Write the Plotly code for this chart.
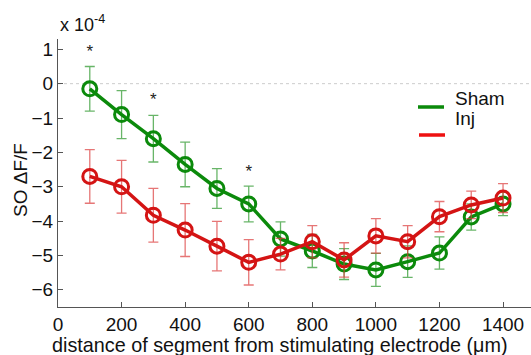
import plotly.graph_objects as go

distance = [100, 200, 300, 400, 500, 600, 700, 800, 900, 1000, 1100, 1200, 1300, 1400]
sham_mean = [-0.15, -0.9, -1.6, -2.35, -3.05, -3.5, -4.52, -4.87, -5.25, -5.42, -5.18, -4.93, -3.88, -3.5]
sham_err = [0.65, 0.7, 0.68, 0.65, 0.58, 0.52, 0.5, 0.48, 0.45, 0.48, 0.46, 0.47, 0.38, 0.34]
inj_mean = [-2.7, -3.0, -3.83, -4.26, -4.73, -5.2, -4.96, -4.6, -5.13, -4.43, -4.6, -3.87, -3.53, -3.33]
inj_err = [0.78, 0.77, 0.78, 0.77, 0.72, 0.66, 0.46, 0.47, 0.5, 0.5, 0.47, 0.44, 0.4, 0.42]
star_x = [100, 300, 600]
star_y = [0.9, -0.5, -2.6]
xticks = [0, 200, 400, 600, 800, 1000, 1200, 1400]
yticks = [1, 0, -1, -2, -3, -4, -5, -6]

GREEN = "#0b8a0b"
RED = "#d41414"
FONT = "Liberation Sans, Arial, sans-serif"
FS = 19

L, T, B = 58, 39, 48
W, H = 531, 355
PW, PH = W - L, H - T - B


def px(x):
    return (x - L) / PW


def py(y):
    return (H - B - y) / PH


fig = go.Figure()
for mean, err, col, ecol, name in [
    (sham_mean, sham_err, GREEN, "rgba(40,150,40,0.7)", "Sham"),
    (inj_mean, inj_err, RED, "rgba(220,60,60,0.7)", "Inj"),
]:
    fig.add_trace(go.Scatter(
        x=distance, y=mean, mode="lines+markers", name=name,
        line=dict(color=col, width=3.5),
        marker=dict(symbol="circle-open", size=14, color=col, line=dict(width=3, color=col)),
        error_y=dict(type="data", array=err, visible=True, color=ecol, thickness=1.3, width=5),
        showlegend=False,
    ))

fig.add_trace(go.Scatter(
    x=star_x, y=star_y, mode="text", text=["*"] * len(star_x),
    textfont=dict(size=17, color="#222", family=FONT), showlegend=False,
))

fig.add_shape(type="line", xref="paper", yref="y", x0=0, x1=1, y0=0, y1=0,
              line=dict(color="#cccccc", width=1, dash="dot"), layer="below")

# legend (drawn manually)
fig.add_shape(type="line", xref="paper", yref="paper", x0=px(418), x1=px(444),
              y0=py(107), y1=py(107), line=dict(color=GREEN, width=3.5))
fig.add_shape(type="line", xref="paper", yref="paper", x0=px(419), x1=px(445),
              y0=py(135), y1=py(135), line=dict(color="#ee1111", width=3.5))
fig.add_annotation(x=px(453), y=py(98), xref="paper", yref="paper",
                   text="Sham", showarrow=False, xanchor="left", yanchor="middle",
                   font=dict(size=FS, color="#111", family=FONT))
fig.add_annotation(x=px(453), y=py(118), xref="paper", yref="paper",
                   text="Inj", showarrow=False, xanchor="left", yanchor="middle",
                   font=dict(size=FS, color="#111", family=FONT))
fig.add_annotation(x=px(58), y=py(24), xref="paper", yref="paper",
                   text="x 10<sup>-4</sup>", showarrow=False, xanchor="left", yanchor="middle",
                   font=dict(size=18, color="#111", family=FONT))
fig.add_annotation(x=px(280), y=py(345), xref="paper", yref="paper",
                   text="distance of segment from stimulating electrode (μm)",
                   showarrow=False, xanchor="center", yanchor="middle",
                   font=dict(size=19.8, color="#111", family=FONT))
fig.add_annotation(x=px(20), y=py(180), xref="paper", yref="paper",
                   text="SO ΔF/F", textangle=-90,
                   showarrow=False, xanchor="center", yanchor="middle",
                   font=dict(size=FS, color="#111", family=FONT))

fig.update_layout(
    width=W, height=H,
    margin=dict(l=L, r=0, t=T, b=B, autoexpand=False),
    paper_bgcolor="white", plot_bgcolor="white",
    font=dict(family=FONT, size=FS, color="#111"),
    xaxis=dict(range=[0, 1488], tickvals=xticks, showgrid=False, zeroline=False,
               showline=True, linecolor="#555", linewidth=1.2, ticks="inside", ticklen=5,
               tickcolor="#555", tickfont=dict(size=FS), automargin=False),
    yaxis=dict(range=[-6.5, 1.3], tickvals=yticks,
               showgrid=False, zeroline=False,
               showline=True, linecolor="#555", linewidth=1.2, ticks="inside", ticklen=5,
               tickcolor="#555", tickfont=dict(size=FS), automargin=False),
)

fig.write_html("out.html", config={"displayModeBar": False},
               post_script="document.body.style.margin='0';document.body.style.overflow='hidden';")
